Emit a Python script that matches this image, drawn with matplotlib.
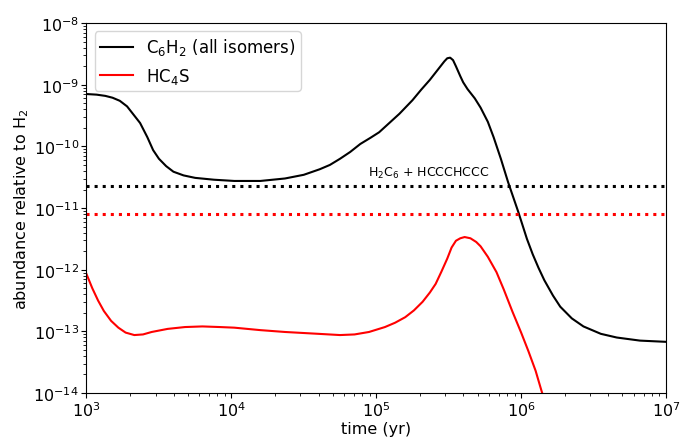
import numpy as np
import matplotlib
matplotlib.use("Agg")
import matplotlib.pyplot as plt

# log10(time / yr) and log10(abundance)
c6h2_logt = [3.00, 3.07, 3.13, 3.18, 3.23, 3.28, 3.32, 3.37, 3.42, 3.46, 3.50, 3.55, 3.60,
             3.67, 3.75, 3.88, 4.02, 4.20, 4.37, 4.50, 4.61, 4.68, 4.75, 4.82, 4.89,
             4.96, 5.02, 5.09, 5.16, 5.25, 5.31, 5.37, 5.43, 5.47, 5.49, 5.51, 5.53,
             5.55, 5.58, 5.60, 5.63, 5.68, 5.72, 5.77, 5.81, 5.86, 5.91, 5.98, 6.04,
             6.08, 6.12, 6.16, 6.22, 6.27, 6.35, 6.43, 6.55, 6.66, 6.82, 7.00]
c6h2_logx = [-9.15, -9.16, -9.18, -9.21, -9.26, -9.35, -9.47, -9.62, -9.85, -10.06, -10.20,
             -10.32, -10.41, -10.47, -10.51, -10.54, -10.56, -10.56, -10.52, -10.46,
             -10.37, -10.30, -10.20, -10.09, -9.96, -9.86, -9.77, -9.62, -9.47, -9.25,
             -9.08, -8.92, -8.74, -8.62, -8.57, -8.56, -8.60, -8.70, -8.86, -8.96,
             -9.07, -9.22, -9.37, -9.60, -9.85, -10.20, -10.58, -11.06, -11.50, -11.75,
             -11.97, -12.17, -12.42, -12.60, -12.79, -12.92, -13.04, -13.10, -13.15,
             -13.17]

hc4s_logt = [3.00, 3.04, 3.08, 3.12, 3.17, 3.22, 3.27, 3.33, 3.39, 3.45, 3.56, 3.68, 3.80,
             3.92, 4.02, 4.20, 4.37, 4.60, 4.75, 4.85, 4.95, 5.06, 5.13, 5.20, 5.26,
             5.32, 5.37, 5.41, 5.45, 5.49, 5.52, 5.55, 5.58, 5.61, 5.65, 5.69, 5.72,
             5.77, 5.83, 5.88, 5.94, 6.00, 6.05, 6.10, 6.14, 6.18]
hc4s_logx = [-12.07, -12.30, -12.50, -12.67, -12.83, -12.94, -13.02, -13.06, -13.05, -13.01,
             -12.96, -12.93, -12.92, -12.93, -12.94, -12.98, -13.01, -13.04, -13.06,
             -13.05, -13.01, -12.93, -12.86, -12.77, -12.66, -12.52, -12.37, -12.23,
             -12.03, -11.82, -11.64, -11.53, -11.49, -11.47, -11.49, -11.55, -11.62,
             -11.79, -12.04, -12.32, -12.68, -13.02, -13.32, -13.64, -13.96, -14.26]

c6h2_obs = 2.3e-11   # H2C6 + HCCCHCCC
hc4s_obs = 8.1e-12

fig = plt.figure(figsize=(6.81, 4.39), dpi=100)
ax = fig.add_axes([0.127, 0.1025, 0.851, 0.8425])

ax.plot(10 ** np.array(c6h2_logt), 10 ** np.array(c6h2_logx), color='black', lw=1.5,
        label='C$_6$H$_2$ (all isomers)')
ax.plot(10 ** np.array(hc4s_logt), 10 ** np.array(hc4s_logx), color='red', lw=1.5,
        label='HC$_4$S')
ax.axhline(c6h2_obs, color='black', ls=':', lw=2.2)
ax.axhline(hc4s_obs, color='red', ls=':', lw=2.2)
ax.text(2.3e5, 2.9e-11, 'H$_2$C$_6$ + HCCCHCCC', fontsize=9, ha='center', va='bottom')

ax.set_xscale('log')
ax.set_yscale('log')
ax.set_xlim(1e3, 1e7)
ax.set_ylim(1e-14, 1e-8)
ax.tick_params(labelsize=11.5)
ax.tick_params(axis='x', pad=2)
ax.tick_params(axis='y', pad=2)
ax.set_xlabel('time (yr)', fontsize=11.5, labelpad=1)
ax.set_ylabel('abundance relative to H$_2$', fontsize=11.5, labelpad=2)
ax.legend(loc='upper left', fontsize=12, handlelength=2.0, borderpad=0.3)

fig.savefig('out.png', dpi=100)
